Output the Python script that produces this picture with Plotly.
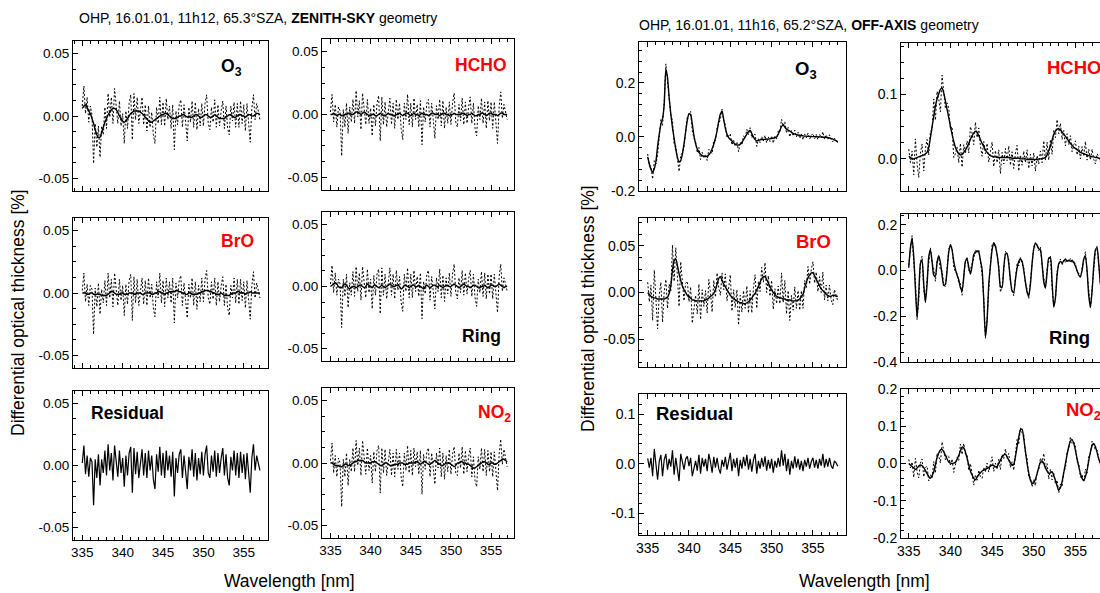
import numpy as np
import plotly.graph_objects as go

W, H = 1100, 593
FONT = "Arial, Liberation Sans, sans-serif"

# ---------------- wavelength grids [nm] ----------------
wl_zen = np.round(np.arange(335.0, 357.0 + 1e-6, 0.2), 1)   # zenith-sky spectrum
wl_off = np.round(np.arange(335.0, 358.0 + 1e-6, 0.2), 1)   # off-axis spectrum

# ---------------- zenith-sky fit (differential optical thickness, %) ----------------
zen_residual = [
    0.002, 0.016, -0.007, 0.008, -0.009, 0.006, 0.003, -0.032, 0.005, -0.010,
    0.009, -0.016, 0.005, -0.006, 0.012, -0.008, 0.017, -0.004, 0.010, -0.012,
    0.016, 0.004, -0.009, 0.012, -0.006, 0.006, -0.017, 0.008, -0.008, 0.010,
    0.015, -0.022, 0.014, -0.007, 0.011, -0.010, 0.004, 0.013, -0.008, 0.010,
    -0.010, 0.012, -0.004, 0.008, -0.011, -0.019, 0.009, -0.005, 0.015, -0.008,
    0.010, -0.010, 0.012, -0.004, 0.008, -0.009, 0.011, -0.025, 0.006, -0.006,
    0.009, 0.013, -0.010, 0.008, -0.005, -0.019, 0.007, -0.004, 0.013, -0.009,
    0.010, -0.012, 0.006, -0.007, 0.011, -0.008, 0.009, 0.016, -0.006, -0.010,
    0.008, -0.005, 0.012, -0.009, 0.010, -0.006, 0.006, 0.014, -0.008, 0.009,
    -0.010, -0.016, 0.007, -0.004, 0.012, -0.008, 0.010, -0.010, 0.011, -0.006,
    0.009, -0.011, 0.010, -0.004, -0.022, 0.006, 0.017, -0.004, 0.008, 0.002,
    -0.004,
]
zen_o3 = [
    0.006, 0.008, 0.009, 0.007, 0.004, 0.002, -0.002, -0.006, -0.011, -0.015,
    -0.017, -0.017, -0.013, -0.009, -0.005, -0.002, 0.001, 0.003, 0.005, 0.006,
    0.006, 0.005, 0.003, 0.000, -0.002, -0.004, -0.005, -0.004, -0.002, 0.000,
    0.002, 0.003, 0.004, 0.004, 0.004, 0.004, 0.003, 0.002, 0.001, -0.001,
    -0.002, -0.004, -0.005, -0.005, -0.004, -0.003, -0.002, -0.001, 0.000, 0.001,
    0.001, 0.002, 0.002, 0.001, 0.000, -0.001, -0.002, -0.002, -0.002, -0.001,
    0.000, 0.000, 0.001, 0.001, 0.000, -0.001, 0.000, -0.001, -0.001, 0.000,
    0.001, 0.001, 0.000, -0.001, -0.001, 0.000, 0.001, 0.001, 0.000, -0.001,
    -0.001, 0.000, 0.001, 0.000, -0.001, -0.002, -0.002, -0.002, -0.002, -0.001,
    0.000, 0.001, 0.001, 0.000, -0.001, -0.001, 0.000, 0.001, 0.001, 0.000,
    0.000, -0.001, 0.000, 0.001, 0.001, 0.000, 0.000, 0.001, 0.002, 0.002,
    0.001,
]
zen_hcho = [
    0.000, 0.000, 0.001, 0.000, -0.001, 0.000, 0.000, -0.001, -0.001, 0.000,
    0.000, 0.001, 0.001, 0.000, 0.000, 0.001, 0.002, 0.002, 0.001, 0.000,
    0.001, 0.002, 0.001, 0.000, -0.001, -0.001, 0.000, 0.000, -0.001, -0.001,
    0.000, 0.001, 0.000, -0.001, -0.001, 0.000, 0.001, 0.000, 0.000, -0.001,
    -0.001, 0.000, 0.000, 0.001, 0.000, -0.001, 0.000, 0.001, 0.001, 0.000,
    -0.001, 0.000, 0.001, 0.000, 0.000, -0.001, 0.000, 0.001, 0.000, 0.000,
    0.000, -0.001, 0.000, 0.001, 0.001, 0.000, 0.000, 0.000, -0.001, 0.000,
    0.001, 0.001, 0.000, 0.000, -0.001, 0.000, 0.000, 0.001, 0.000, 0.000,
    0.000, 0.000, 0.001, 0.001, 0.000, -0.001, 0.000, 0.000, 0.001, 0.000,
    -0.001, -0.001, 0.000, 0.000, 0.001, 0.001, 0.000, -0.001, 0.000, 0.001,
    0.001, 0.000, 0.000, 0.000, -0.001, 0.000, 0.001, 0.001, 0.000, 0.000,
    0.000,
]
zen_bro = [
    0.000, 0.000, 0.000, -0.001, -0.001, 0.000, 0.000, -0.001, -0.001, -0.001,
    -0.001, -0.001, -0.002, -0.002, -0.002, -0.002, -0.001, 0.000, 0.001, 0.001,
    0.000, -0.001, -0.001, -0.001, 0.000, 0.000, -0.001, -0.001, -0.001, 0.000,
    0.000, 0.000, -0.001, -0.001, 0.000, 0.000, 0.000, -0.001, -0.001, 0.000,
    0.000, 0.000, 0.000, -0.001, -0.001, 0.000, 0.000, 0.001, 0.001, 0.000,
    0.000, -0.001, 0.000, 0.000, 0.001, 0.001, 0.001, 0.001, 0.002, 0.002,
    0.001, 0.001, 0.000, 0.000, -0.001, -0.001, 0.000, 0.000, -0.001, -0.001,
    -0.001, -0.001, 0.000, 0.000, 0.001, 0.001, 0.002, 0.002, 0.002, 0.001,
    0.001, 0.000, 0.000, -0.001, -0.001, -0.001, 0.000, -0.001, -0.002, -0.002,
    -0.002, -0.002, -0.001, 0.000, 0.000, 0.000, 0.001, 0.001, 0.000, 0.000,
    0.000, -0.001, 0.000, 0.000, 0.001, 0.000, 0.000, 0.000, 0.000, 0.000,
    0.000,
]
zen_ring = [
    0.000, 0.001, 0.002, 0.003, 0.002, 0.000, -0.001, -0.001, 0.001, 0.002,
    0.001, -0.001, -0.002, -0.001, 0.000, 0.000, -0.001, 0.000, 0.001, 0.001,
    0.000, -0.001, 0.000, 0.002, 0.001, 0.000, -0.001, 0.001, 0.001, 0.000,
    -0.001, 0.000, 0.001, 0.000, -0.001, 0.000, 0.001, 0.002, 0.001, 0.000,
    0.000, 0.001, 0.001, 0.000, -0.002, -0.001, 0.001, 0.001, 0.000, -0.001,
    0.000, 0.001, 0.001, 0.000, 0.000, 0.001, 0.000, -0.001, -0.002, 0.000,
    0.001, 0.000, -0.001, 0.000, 0.001, 0.001, 0.000, 0.000, 0.001, 0.000,
    -0.001, 0.000, 0.001, 0.001, 0.000, 0.000, 0.001, 0.002, 0.001, 0.000,
    -0.001, 0.000, 0.001, 0.002, 0.001, 0.000, 0.000, -0.001, 0.000, 0.001,
    0.001, 0.000, -0.001, -0.001, 0.000, 0.000, 0.001, 0.000, -0.001, 0.000,
    0.001, 0.001, 0.000, 0.000, 0.001, 0.002, 0.001, 0.000, -0.001, 0.000,
    0.000,
]
zen_no2 = [
    0.000, 0.000, -0.001, -0.002, -0.002, -0.002, -0.003, -0.003, -0.002, -0.001,
    -0.001, -0.002, -0.002, -0.001, 0.000, 0.001, 0.001, 0.002, 0.002, 0.002,
    0.002, 0.001, 0.000, 0.000, 0.000, 0.000, 0.001, 0.001, 0.001, 0.000,
    -0.001, -0.002, -0.002, -0.001, 0.000, 0.000, -0.001, -0.002, -0.002, -0.002,
    -0.001, -0.001, -0.001, 0.000, 0.000, 0.000, -0.001, -0.001, -0.001, 0.000,
    0.000, 0.000, 0.000, 0.001, 0.001, 0.000, -0.001, 0.000, 0.001, 0.001,
    0.000, -0.001, -0.001, 0.000, 0.001, 0.002, 0.001, 0.000, -0.001, -0.002,
    -0.002, -0.001, 0.000, 0.000, 0.000, -0.001, -0.002, -0.003, -0.002, 0.000,
    0.000, 0.001, 0.001, 0.000, 0.000, -0.001, -0.001, -0.002, -0.003, -0.004,
    -0.004, -0.003, -0.002, -0.001, 0.000, 0.001, 0.001, 0.000, -0.001, -0.001,
    0.000, 0.000, -0.001, -0.001, 0.000, 0.001, 0.002, 0.003, 0.003, 0.002,
    0.001,
]

# ---------------- off-axis fit (differential optical thickness, %) ----------------
off_residual = [
    0.011, -0.008, 0.012, -0.025, 0.030, -0.010, -0.032, 0.005, 0.018, -0.025,
    0.008, 0.020, -0.012, 0.010, -0.006, 0.027, -0.022, 0.012, -0.008, -0.035,
    0.020, 0.005, -0.012, 0.010, 0.015, -0.005, 0.012, -0.025, -0.010, 0.006,
    -0.014, 0.018, -0.020, 0.012, -0.006, 0.010, -0.015, 0.020, 0.004, -0.018,
    0.014, -0.008, 0.012, -0.010, -0.020, 0.008, -0.006, 0.014, -0.012, 0.006,
    0.022, -0.015, 0.010, -0.008, 0.012, -0.025, 0.008, -0.010, 0.014, -0.005,
    0.018, -0.012, 0.010, -0.016, 0.008, 0.020, -0.020, 0.006, -0.010, 0.012,
    -0.006, 0.015, -0.014, 0.008, -0.010, 0.010, -0.018, 0.006, -0.008, 0.012,
    -0.006, 0.027, -0.004, 0.020, -0.015, 0.010, -0.022, 0.006, -0.010, 0.015,
    -0.008, 0.010, -0.012, 0.006, -0.015, 0.008, -0.006, 0.012, -0.010, 0.004,
    0.012, -0.008, 0.008, -0.010, 0.010, -0.004, 0.020, -0.008, 0.010, -0.006,
    0.012, -0.004, -0.010, 0.006, 0.002, -0.005,
]
off_o3 = [
    -0.074, -0.100, -0.120, -0.131, -0.118, -0.090, -0.035, 0.010, 0.047, 0.068,
    0.120, 0.250, 0.220, 0.145, 0.085, 0.035, -0.005, -0.045, -0.076, -0.093,
    -0.088, -0.064, -0.025, 0.020, 0.062, 0.086, 0.082, 0.047, 0.005, -0.025,
    -0.045, -0.057, -0.064, -0.069, -0.072, -0.073, -0.072, -0.066, -0.058, -0.044,
    -0.027, -0.005, 0.022, 0.058, 0.085, 0.095, 0.065, 0.032, 0.010, -0.003,
    -0.010, -0.015, -0.022, -0.027, -0.030, -0.030, -0.027, -0.020, -0.010, 0.000,
    0.010, 0.020, 0.024, 0.012, 0.000, -0.010, -0.015, -0.013, -0.011, -0.010,
    -0.009, -0.009, -0.008, -0.008, -0.007, -0.006, -0.005, -0.003, 0.000, 0.010,
    0.024, 0.038, 0.044, 0.036, 0.029, 0.025, 0.022, 0.017, 0.013, 0.010,
    0.008, 0.007, 0.006, 0.005, 0.004, 0.003, 0.003, 0.002, 0.002, 0.001,
    0.001, 0.001, 0.001, 0.000, 0.000, 0.000, -0.001, -0.001, -0.002, -0.003,
    -0.004, -0.006, -0.008, -0.011, -0.014, -0.017,
]
off_hcho = [
    0.004, 0.002, 0.000, 0.000, 0.001, 0.002, 0.003, 0.004, 0.005, 0.006,
    0.008, 0.010, 0.018, 0.033, 0.050, 0.066, 0.082, 0.093, 0.101, 0.108,
    0.110, 0.102, 0.090, 0.077, 0.064, 0.051, 0.038, 0.027, 0.018, 0.012,
    0.008, 0.006, 0.007, 0.010, 0.014, 0.018, 0.024, 0.030, 0.036, 0.040,
    0.043, 0.041, 0.036, 0.030, 0.024, 0.019, 0.014, 0.010, 0.007, 0.005,
    0.004, 0.003, 0.003, 0.002, 0.002, 0.002, 0.002, 0.002, 0.002, 0.002,
    0.002, 0.002, 0.001, 0.001, 0.001, 0.001, 0.001, 0.000, 0.000, 0.000,
    0.000, -0.001, -0.001, -0.001, -0.001, -0.001, -0.001, -0.001, 0.000, 0.000,
    0.000, 0.001, 0.002, 0.006, 0.013, 0.020, 0.029, 0.038, 0.043, 0.046,
    0.047, 0.045, 0.042, 0.038, 0.035, 0.031, 0.028, 0.024, 0.021, 0.018,
    0.016, 0.014, 0.012, 0.010, 0.009, 0.008, 0.007, 0.006, 0.005, 0.004,
    0.003, 0.003, 0.002, 0.002, 0.001, 0.000,
]
off_bro = [
    0.000, -0.002, -0.004, -0.005, -0.006, -0.006, -0.007, -0.007, -0.007, -0.007,
    -0.007, -0.006, -0.005, -0.001, 0.007, 0.024, 0.034, 0.036, 0.029, 0.020,
    0.013, 0.007, 0.003, 0.000, -0.003, -0.005, -0.006, -0.008, -0.008, -0.009,
    -0.009, -0.009, -0.009, -0.009, -0.009, -0.008, -0.007, -0.006, -0.004, -0.003,
    -0.001, 0.003, 0.009, 0.015, 0.017, 0.013, 0.009, 0.006, 0.003, 0.000,
    -0.003, -0.005, -0.007, -0.008, -0.009, -0.010, -0.011, -0.011, -0.012, -0.012,
    -0.011, -0.010, -0.008, -0.006, -0.003, -0.001, 0.003, 0.006, 0.011, 0.015,
    0.017, 0.017, 0.014, 0.010, 0.006, 0.003, 0.000, -0.002, -0.004, -0.005,
    -0.006, -0.006, -0.007, -0.007, -0.008, -0.008, -0.008, -0.009, -0.009, -0.009,
    -0.009, -0.008, -0.007, -0.004, -0.002, 0.005, 0.011, 0.016, 0.019, 0.021,
    0.021, 0.018, 0.014, 0.011, 0.007, 0.004, 0.002, 0.000, -0.002, -0.003,
    -0.004, -0.004, -0.003, -0.003, -0.004, -0.004,
]
off_ring = [
    0.012, 0.100, 0.140, 0.060, -0.080, -0.205, -0.100, 0.030, 0.045, -0.060,
    -0.140, -0.060, 0.060, 0.090, 0.040, -0.020, -0.025, 0.035, 0.065, 0.035,
    -0.020, -0.065, -0.060, 0.000, 0.080, 0.113, 0.090, 0.040, 0.005, -0.020,
    -0.040, -0.075, -0.088, -0.030, 0.040, 0.050, 0.015, -0.015, 0.020, 0.070,
    0.078, 0.085, 0.080, 0.045, 0.005, -0.130, -0.290, -0.220, -0.060, 0.020,
    0.090, 0.122, 0.105, 0.070, 0.010, -0.070, -0.075, 0.010, 0.070, 0.075,
    0.030, -0.040, -0.090, -0.095, -0.040, 0.010, 0.040, 0.050, 0.040, 0.000,
    -0.050, -0.095, -0.110, -0.060, 0.030, 0.095, 0.120, 0.110, 0.095, 0.090,
    0.030, -0.050, -0.075, -0.010, 0.055, 0.055, -0.050, -0.160, -0.120, -0.020,
    0.030, 0.040, 0.035, 0.040, 0.050, 0.040, 0.045, 0.040, 0.045, 0.035,
    0.020, 0.000, -0.020, -0.025, 0.000, 0.050, 0.062, 0.000, -0.110, -0.160,
    -0.090, 0.020, 0.090, 0.100, 0.030, -0.060,
]
off_no2 = [
    0.000, -0.004, -0.008, -0.012, -0.016, -0.012, -0.007, -0.004, -0.006, -0.011,
    -0.019, -0.027, -0.035, -0.040, -0.033, -0.022, -0.003, 0.016, 0.028, 0.036,
    0.038, 0.031, 0.022, 0.012, 0.004, 0.001, 0.000, 0.001, 0.003, 0.011,
    0.022, 0.034, 0.044, 0.042, 0.031, 0.014, -0.004, -0.020, -0.031, -0.040,
    -0.044, -0.037, -0.030, -0.025, -0.020, -0.018, -0.016, -0.013, -0.011, -0.007,
    -0.004, -0.006, -0.009, -0.008, 0.000, 0.009, 0.017, 0.023, 0.025, 0.018,
    0.009, 0.001, -0.005, -0.002, 0.018, 0.045, 0.071, 0.090, 0.092, 0.067,
    0.033, 0.000, -0.025, -0.045, -0.053, -0.052, -0.042, -0.028, -0.010, 0.003,
    0.007, 0.000, -0.011, -0.020, -0.027, -0.025, -0.022, -0.032, -0.045, -0.060,
    -0.071, -0.065, -0.049, -0.025, 0.000, 0.024, 0.045, 0.060, 0.064, 0.054,
    0.035, 0.013, -0.008, -0.027, -0.040, -0.046, -0.035, -0.018, 0.008, 0.031,
    0.048, 0.054, 0.045, 0.030, 0.012, 0.000,
]

# ---------------- tick labels ----------------
x_tickvals = [335, 340, 345, 350, 355]
x_ticktext = ["335", "340", "345", "350", "355"]
zen_yticks = ([-0.05, 0.0, 0.05], ["-0.05", "0.00", "0.05"])
off_o3_yticks = ([-0.2, 0.0, 0.2], ["-0.2", "0.0", "0.2"])
off_hcho_yticks = ([0.0, 0.1], ["0.0", "0.1"])
off_bro_yticks = ([-0.05, 0.0, 0.05], ["-0.05", "0.00", "0.05"])
off_ring_yticks = ([-0.4, -0.2, 0.0, 0.2], ["-0.4", "-0.2", "0.0", "0.2"])
off_res_yticks = ([-0.1, 0.0, 0.1], ["-0.1", "0.0", "0.1"])
off_no2_yticks = ([-0.2, -0.1, 0.0, 0.1, 0.2], ["-0.2", "-0.1", "0.0", "0.1", "0.2"])

RED = "#ff0000"
BLK = "#000000"
ZEN_TICK, OFF_TICK = 13.5, 14
ZEN_LABEL, OFF_LABEL = 17.5, 18.5

# panel layout: frame in pixels (x0, x1, y0, y1), axis ranges, minor y step, label
panels = [
    # zenith-sky geometry
    dict(wl=wl_zen, fit=zen_o3, res=zen_residual, frame=(73, 268, 41, 191),
         xr=(333.85, 358.0), yr=(-0.06, 0.06), yt=zen_yticks, ym=0.0125,
         label="<b>O<sub>3</sub></b>", lc=BLK, lp=(231, 68, "center"), xlab=False,
         ts=ZEN_TICK, ls=ZEN_LABEL),
    dict(wl=wl_zen, fit=zen_hcho, res=zen_residual, frame=(322, 514, 39, 190),
         xr=(333.95, 357.85), yr=(-0.06, 0.06), yt=zen_yticks, ym=0.0125,
         label="<b>HCHO</b>", lc=RED, lp=(481, 65, "center"), xlab=False,
         ts=ZEN_TICK, ls=ZEN_LABEL),
    dict(wl=wl_zen, fit=zen_bro, res=zen_residual, frame=(73, 268, 218, 368),
         xr=(333.85, 358.0), yr=(-0.06, 0.06), yt=zen_yticks, ym=0.0125,
         label="<b>BrO</b>", lc=RED, lp=(237, 241, "center"), xlab=False,
         ts=ZEN_TICK, ls=ZEN_LABEL),
    dict(wl=wl_zen, fit=zen_ring, res=zen_residual, frame=(322, 514, 212, 361),
         xr=(333.95, 357.85), yr=(-0.06, 0.06), yt=zen_yticks, ym=0.0125,
         label="<b>Ring</b>", lc=BLK, lp=(481, 336, "center"), xlab=False,
         ts=ZEN_TICK, ls=ZEN_LABEL),
    dict(wl=wl_zen, fit=None, res=zen_residual, frame=(73, 268, 391, 540),
         xr=(333.85, 358.0), yr=(-0.06, 0.06), yt=zen_yticks, ym=0.0125,
         label="<b>Residual</b>", lc=BLK, lp=(89, 413, "left"), xlab=True,
         ts=ZEN_TICK, ls=ZEN_LABEL),
    dict(wl=wl_zen, fit=zen_no2, res=zen_residual, frame=(322, 514, 388, 538),
         xr=(333.95, 357.85), yr=(-0.06, 0.06), yt=zen_yticks, ym=0.0125,
         label="<b>NO<sub>2</sub></b>", lc=RED, lp=(494, 413, "center"), xlab=True,
         ts=ZEN_TICK, ls=ZEN_LABEL),
    # off-axis geometry
    dict(wl=wl_off, fit=off_o3, res=off_residual, frame=(639, 846, 42, 191),
         xr=(333.95, 359.0), yr=(-0.2, 0.351), yt=off_o3_yticks, ym=0.04,
         label="<b>O<sub>3</sub></b>", lc=BLK, lp=(806, 70, "center"), xlab=False,
         ts=OFF_TICK, ls=OFF_LABEL),
    dict(wl=wl_off, fit=off_hcho, res=off_residual, frame=(901, 1100, 43, 191),
         xr=(334.07, 357.95), yr=(-0.05, 0.18), yt=off_hcho_yticks, ym=0.025,
         label="<b>HCHO</b>", lc=RED, lp=(1045, 67, "left"), xlab=False,
         ts=OFF_TICK, ls=OFF_LABEL),
    dict(wl=wl_off, fit=off_bro, res=off_residual, frame=(639, 846, 218, 367),
         xr=(333.95, 359.0), yr=(-0.08, 0.08), yt=off_bro_yticks, ym=0.0125,
         label="<b>BrO</b>", lc=RED, lp=(813, 241, "center"), xlab=False,
         ts=OFF_TICK, ls=OFF_LABEL),
    dict(wl=wl_off, fit=off_ring, res=off_residual, frame=(901, 1100, 214, 362),
         xr=(334.07, 357.95), yr=(-0.4, 0.247), yt=off_ring_yticks, ym=0.04,
         label="<b>Ring</b>", lc=BLK, lp=(1069, 337, "center"), xlab=False,
         ts=OFF_TICK, ls=OFF_LABEL),
    dict(wl=wl_off, fit=None, res=off_residual, frame=(639, 846, 394, 535),
         xr=(333.95, 359.0), yr=(-0.144, 0.141), yt=off_res_yticks, ym=0.02,
         label="<b>Residual</b>", lc=BLK, lp=(654, 413, "left"), xlab=True,
         ts=OFF_TICK, ls=OFF_LABEL),
    dict(wl=wl_off, fit=off_no2, res=off_residual, frame=(901, 1100, 389, 538),
         xr=(334.07, 357.95), yr=(-0.2, 0.2), yt=off_no2_yticks, ym=0.02,
         label="<b>NO<sub>2</sub></b>", lc=RED, lp=(1064, 411, "left"), xlab=True,
         ts=OFF_TICK, ls=OFF_LABEL),
]


def px_x(v):
    return v / W


def px_y(v):
    return 1 - v / H


fig = go.Figure()
layout = dict(
    width=W, height=H, margin=dict(l=0, r=0, t=0, b=0),
    paper_bgcolor="white", plot_bgcolor="white", showlegend=False,
    font=dict(family=FONT, color="black", size=13),
)
annotations = []

for i, p in enumerate(panels, start=1):
    xa = "x" if i == 1 else f"x{i}"
    ya = "y" if i == 1 else f"y{i}"
    wl = p["wl"]
    res = np.array(p["res"])
    if p["fit"] is None:
        fig.add_trace(go.Scatter(x=wl, y=res, mode="lines", xaxis=xa, yaxis=ya,
                                 line=dict(color=BLK, width=1.2)))
    else:
        fit = np.array(p["fit"])
        meas = fit + res  # measured optical thickness = fitted cross-section + residual
        fig.add_trace(go.Scatter(x=wl, y=meas, mode="lines", xaxis=xa, yaxis=ya,
                                 line=dict(color=BLK, width=1, dash="2px,2px")))
        fig.add_trace(go.Scatter(x=wl, y=fit, mode="lines", xaxis=xa, yaxis=ya,
                                 line=dict(color=BLK, width=1.4, shape="spline",
                                           smoothing=0.6)))
    x0, x1, y0, y1 = p["frame"]
    right_open = x1 >= W
    layout["xaxis" if i == 1 else f"xaxis{i}"] = dict(
        domain=[px_x(x0), px_x(x1)], range=list(p["xr"]), anchor=ya,
        showline=True, linecolor=BLK, linewidth=1, mirror="ticks",
        ticks="inside", ticklen=5, tickwidth=1, tickcolor=BLK,
        tickmode="array", tickvals=x_tickvals, ticktext=x_ticktext,
        showticklabels=p["xlab"], tickfont=dict(size=p["ts"], family=FONT),
        minor=dict(ticks="inside", ticklen=3, tickwidth=1, tickcolor=BLK,
                   dtick=1, tick0=335, showgrid=False),
        showgrid=False, zeroline=False, automargin=False, fixedrange=True,
    )
    layout["yaxis" if i == 1 else f"yaxis{i}"] = dict(
        domain=[px_y(y1), px_y(y0)], range=list(p["yr"]), anchor=xa,
        showline=True, linecolor=BLK, linewidth=1, mirror=(not right_open),
        ticks="inside", ticklen=5, tickwidth=1, tickcolor=BLK,
        tickmode="array", tickvals=p["yt"][0], ticktext=p["yt"][1],
        tickfont=dict(size=p["ts"], family=FONT),
        minor=dict(ticks="inside", ticklen=3, tickwidth=1, tickcolor=BLK,
                   dtick=p["ym"], tick0=0, showgrid=False),
        showgrid=False, zeroline=False, automargin=False, fixedrange=True,
    )
    lx, ly, anch = p["lp"]
    annotations.append(dict(
        text=p["label"], xref="paper", yref="paper", x=px_x(lx), y=px_y(ly),
        xanchor=anch, yanchor="middle", showarrow=False,
        font=dict(size=p["ls"], color=p["lc"], family=FONT),
    ))

# headers and shared axis titles
annotations += [
    dict(text="OHP, 16.01.01, 11h12, 65.3°SZA, <b>ZENITH-SKY</b> geometry",
         xref="paper", yref="paper", x=px_x(77), y=px_y(18), xanchor="left",
         yanchor="middle", showarrow=False, font=dict(size=14, family=FONT)),
    dict(text="OHP, 16.01.01, 11h16, 65.2°SZA, <b>OFF-AXIS</b> geometry",
         xref="paper", yref="paper", x=px_x(637), y=px_y(25), xanchor="left",
         yanchor="middle", showarrow=False, font=dict(size=14, family=FONT)),
    dict(text="Differential optical thickness [%]", textangle=-90,
         xref="paper", yref="paper", x=px_x(18), y=px_y(313), xanchor="center",
         yanchor="middle", showarrow=False, font=dict(size=17.5, family=FONT)),
    dict(text="Differential optical thickness [%]", textangle=-90,
         xref="paper", yref="paper", x=px_x(588), y=px_y(309), xanchor="center",
         yanchor="middle", showarrow=False, font=dict(size=17.5, family=FONT)),
    dict(text="Wavelength [nm]", xref="paper", yref="paper", x=px_x(289),
         y=px_y(581), xanchor="center", yanchor="middle", showarrow=False,
         font=dict(size=17.5, family=FONT)),
    dict(text="Wavelength [nm]", xref="paper", yref="paper", x=px_x(864),
         y=px_y(581), xanchor="center", yanchor="middle", showarrow=False,
         font=dict(size=17.5, family=FONT)),
]
layout["annotations"] = annotations
fig.update_layout(**layout)

fig.write_html("out.html", config=dict(displayModeBar=False, staticPlot=True))
